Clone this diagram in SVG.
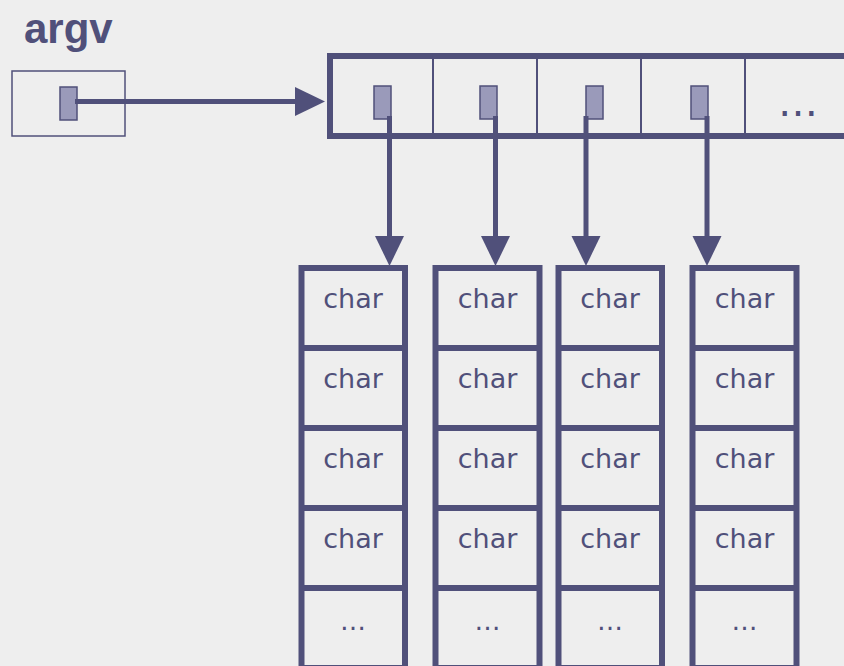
<svg xmlns="http://www.w3.org/2000/svg" width="844" height="666" viewBox="0 0 844 666">
  <style>
    .bg { fill: #eeeeee; }
    .frame { fill: none; stroke: #50507a; stroke-width: 6; }
    .thin { fill: none; stroke: #50507a; stroke-width: 1.5; }
    .div { stroke: #50507a; stroke-width: 2; }
    .ptr { fill: #9a9aba; stroke: #50507a; stroke-width: 1.5; }
    .link { stroke: #50507a; stroke-width: 5; fill: none; }
    .lbl { font-family: "DejaVu Sans", Verdana, sans-serif; font-size: 27px; fill: #50507a; text-anchor: middle; }
    .dots { font-family: "DejaVu Sans", Verdana, sans-serif; font-size: 26px; fill: #50507a; text-anchor: middle; }
    .bigdots { font-family: "DejaVu Sans", Verdana, sans-serif; font-size: 40px; fill: #50507a; text-anchor: middle; }
    .title { font-family: "Liberation Sans", Arial, sans-serif; font-weight: bold; font-size: 42px; fill: #50507a; }
  </style>
  <defs>
    <marker id="head" markerUnits="userSpaceOnUse" markerWidth="30" markerHeight="30" refX="0" refY="14.5" orient="auto">
      <path d="M0,0 L30,14.5 L0,29 z" fill="#50507a"/>
    </marker>
  </defs>

  <rect class="bg" x="0" y="0" width="844" height="666"/>

  <!-- argv variable -->
  <g id="argv">
    <text class="title" x="24" y="43">argv</text>
    <rect class="thin" x="12" y="71" width="113" height="65"/>
    <rect class="ptr" x="60" y="87" width="17" height="33"/>
  </g>

  <!-- array of pointers -->
  <g id="ptr-array">
    <rect class="frame" x="330" y="56" width="560" height="80" stroke-width="5.5"/>
    <line class="div" x1="433" y1="56" x2="433" y2="136"/>
    <line class="div" x1="537" y1="56" x2="537" y2="136"/>
    <line class="div" x1="641" y1="56" x2="641" y2="136"/>
    <line class="div" x1="745" y1="56" x2="745" y2="136"/>
    <rect class="ptr" x="374" y="86" width="17" height="33"/>
    <rect class="ptr" x="480" y="86" width="17" height="33"/>
    <rect class="ptr" x="586" y="86" width="17" height="33"/>
    <rect class="ptr" x="691" y="86" width="17" height="33"/>
    <text class="bigdots" x="798" y="116">…</text>
  </g>

  <!-- char strings -->
  <g id="str1">
    <rect class="frame" x="301.5" y="268" width="103.5" height="400"/>
    <line class="frame" x1="301.5" y1="348" x2="405" y2="348"/>
    <line class="frame" x1="301.5" y1="428" x2="405" y2="428"/>
    <line class="frame" x1="301.5" y1="508" x2="405" y2="508"/>
    <line class="frame" x1="301.5" y1="588" x2="405" y2="588"/>
    <text class="lbl" x="353" y="308">char</text>
    <text class="lbl" x="353" y="388">char</text>
    <text class="lbl" x="353" y="468">char</text>
    <text class="lbl" x="353" y="548">char</text>
    <text class="dots" x="353" y="630">…</text>
  </g>
  <g id="str2">
    <rect class="frame" x="435.5" y="268" width="104" height="400"/>
    <line class="frame" x1="435.5" y1="348" x2="539.5" y2="348"/>
    <line class="frame" x1="435.5" y1="428" x2="539.5" y2="428"/>
    <line class="frame" x1="435.5" y1="508" x2="539.5" y2="508"/>
    <line class="frame" x1="435.5" y1="588" x2="539.5" y2="588"/>
    <text class="lbl" x="487.5" y="308">char</text>
    <text class="lbl" x="487.5" y="388">char</text>
    <text class="lbl" x="487.5" y="468">char</text>
    <text class="lbl" x="487.5" y="548">char</text>
    <text class="dots" x="487.5" y="630">…</text>
  </g>
  <g id="str3">
    <rect class="frame" x="558.5" y="268" width="103.5" height="400"/>
    <line class="frame" x1="558.5" y1="348" x2="662" y2="348"/>
    <line class="frame" x1="558.5" y1="428" x2="662" y2="428"/>
    <line class="frame" x1="558.5" y1="508" x2="662" y2="508"/>
    <line class="frame" x1="558.5" y1="588" x2="662" y2="588"/>
    <text class="lbl" x="610" y="308">char</text>
    <text class="lbl" x="610" y="388">char</text>
    <text class="lbl" x="610" y="468">char</text>
    <text class="lbl" x="610" y="548">char</text>
    <text class="dots" x="610" y="630">…</text>
  </g>
  <g id="str4">
    <rect class="frame" x="692.5" y="268" width="104" height="400"/>
    <line class="frame" x1="692.5" y1="348" x2="796.5" y2="348"/>
    <line class="frame" x1="692.5" y1="428" x2="796.5" y2="428"/>
    <line class="frame" x1="692.5" y1="508" x2="796.5" y2="508"/>
    <line class="frame" x1="692.5" y1="588" x2="796.5" y2="588"/>
    <text class="lbl" x="744.5" y="308">char</text>
    <text class="lbl" x="744.5" y="388">char</text>
    <text class="lbl" x="744.5" y="468">char</text>
    <text class="lbl" x="744.5" y="548">char</text>
    <text class="dots" x="744.5" y="630">…</text>
  </g>

  <!-- pointer connectors -->
  <g id="connectors">
    <line class="link" x1="75" y1="101.5" x2="295" y2="101.5" marker-end="url(#head)"/>
    <line class="link" x1="389.5" y1="116" x2="389.5" y2="236" marker-end="url(#head)"/>
    <line class="link" x1="495.5" y1="116" x2="495.5" y2="236" marker-end="url(#head)"/>
    <line class="link" x1="586" y1="116" x2="586" y2="236" marker-end="url(#head)"/>
    <line class="link" x1="707" y1="116" x2="707" y2="236" marker-end="url(#head)"/>
  </g>
</svg>
